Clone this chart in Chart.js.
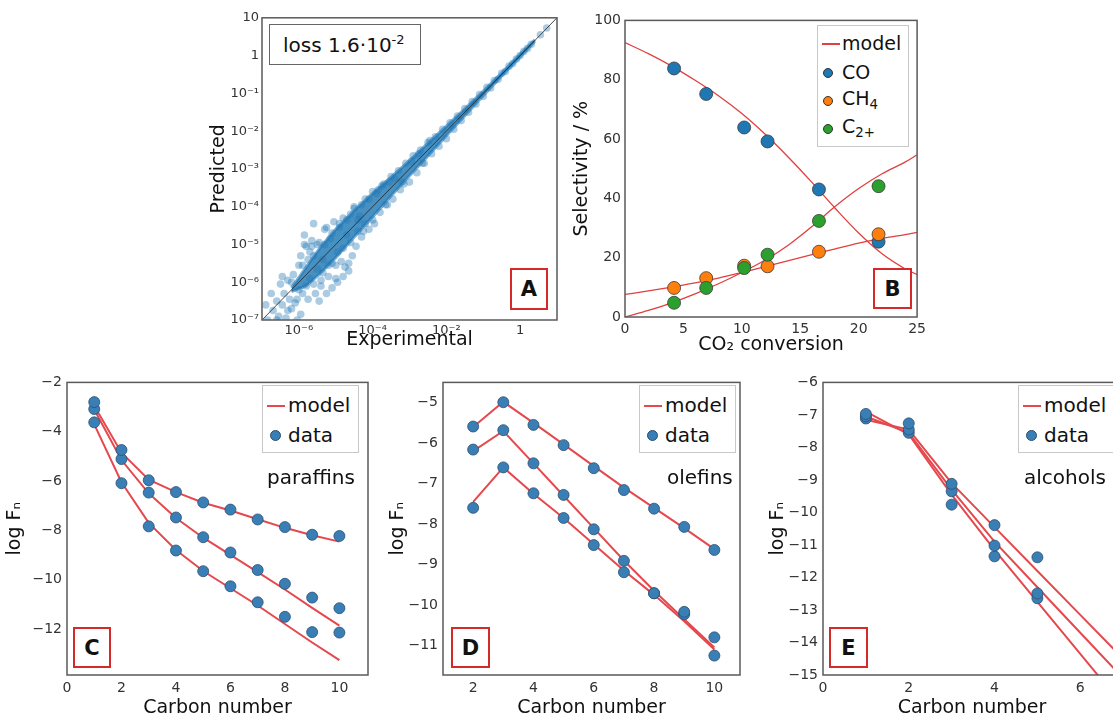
<!DOCTYPE html>
<html lang="en">
<head>
<meta charset="UTF-8">
<title>Model fit panels A-E</title>
<script src="https://cdn.jsdelivr.net/npm/chart.js@4.4.1/dist/chart.umd.min.js"></script>
<style>
  html, body { margin: 0; padding: 0; background: #fff; overflow: hidden; }
  body { width: 1113px; height: 718px; position: relative; font-family: "DejaVu Sans", sans-serif; color: #111; }
  canvas { position: absolute; }
  .box { position: absolute; background: #fff; border: 1px solid #c8c8c8; box-sizing: border-box; }
  .ln { position: absolute; height: 2px; background: #e5484d; }
  .dot { position: absolute; border-radius: 50%; box-sizing: border-box; border: 1px solid #2b4f70; }
  .txt { position: absolute; line-height: 1; transform: translateY(-55%); white-space: nowrap; }
  .txt sub { font-size: 70%; vertical-align: -0.3em; }
  .tag { position: absolute; border: 2px solid #d42a2a; background: #fff; box-sizing: border-box;
         font-weight: bold; font-size: 21px; display: flex; align-items: center; justify-content: center; }
  .note { position: absolute; font-size: 20px; line-height: 1; transform: translateY(-50%); white-space: nowrap; }
</style>
</head>
<body>

<!-- annotations -->
<div class="box" style="left:269px;top:24px;width:152px;height:41px;border:1.5px solid #666;">
  <span class="txt" style="left:13px;top:20px;font-size:20px;">loss 1.6·10<sup style="font-size:13px;vertical-align:0.55em">-2</sup></span>
</div>
<div class="tag" style="left:510px;top:268px;width:38px;height:42px;">A</div>

<div class="box" style="left:817px;top:25px;width:92px;height:122px;font-size:19px;">
  <div class="ln" style="left:4px;top:17px;width:18px;height:1.5px;background:#e0403f"></div>
  <span class="txt" style="left:24px;top:18px">model</span>
  <div class="dot" style="left:5px;top:42px;width:10px;height:10px;background:#1f77b4;border-color:#333"></div>
  <span class="txt" style="left:24px;top:47px">CO</span>
  <div class="dot" style="left:5px;top:70px;width:10px;height:10px;background:#ff7f0e;border-color:#333"></div>
  <span class="txt" style="left:24px;top:75px">CH<sub>4</sub></span>
  <div class="dot" style="left:5px;top:98px;width:10px;height:10px;background:#2ca02c;border-color:#333"></div>
  <span class="txt" style="left:24px;top:103px">C<sub>2+</sub></span>
</div>
<div class="tag" style="left:873px;top:268px;width:39px;height:41px;">B</div>

<div class="box" style="left:262px;top:385px;width:97px;height:68px;font-size:20px;">
  <div class="ln" style="left:4px;top:19px;width:18px"></div>
  <span class="txt" style="left:25px;top:20px">model</span>
  <div class="dot" style="left:7px;top:44px;width:11px;height:11px;background:#3a7eb6"></div>
  <span class="txt" style="left:25px;top:50px">data</span>
</div>
<div class="note" style="left:267px;top:477px;">paraffins</div>
<div class="tag" style="left:73px;top:627px;width:38px;height:41px;">C</div>

<div class="box" style="left:639px;top:385px;width:97px;height:68px;font-size:20px;">
  <div class="ln" style="left:4px;top:19px;width:18px"></div>
  <span class="txt" style="left:25px;top:20px">model</span>
  <div class="dot" style="left:7px;top:44px;width:11px;height:11px;background:#3a7eb6"></div>
  <span class="txt" style="left:25px;top:50px">data</span>
</div>
<div class="note" style="left:667px;top:477px;">olefins</div>
<div class="tag" style="left:451px;top:627px;width:39px;height:41px;">D</div>

<div class="box" style="left:1018px;top:385px;width:110px;height:68px;font-size:20px;">
  <div class="ln" style="left:4px;top:19px;width:18px"></div>
  <span class="txt" style="left:25px;top:20px">model</span>
  <div class="dot" style="left:7px;top:44px;width:11px;height:11px;background:#3a7eb6"></div>
  <span class="txt" style="left:25px;top:50px">data</span>
</div>
<div class="note" style="left:1024px;top:477px;">alcohols</div>
<div class="tag" style="left:829px;top:627px;width:39px;height:41px;">E</div>

<script>
// ---- A: parity plot (log10 values) ----
const aXTicks = [1e-6, 1e-4, 1e-2, 1];
const aYTicks = [1e-7, 1e-6, 1e-5, 1e-4, 1e-3, 1e-2, 1e-1, 1, 10];
const aDiag = [1e-7, 10];
// dense core of the cloud
const aBandExp = [-6.2, -5.8, -5.4, -5.0, -4.5, -4.0, -3.5, -3.0, -2.5, -2.0, -1.5, -1.0, -0.5, 0.0, 0.4];
const aBandLo  = [-6.25, -6.1, -5.75, -5.35, -4.8, -4.27, -3.72, -3.18, -2.66, -2.12, -1.59, -1.06, -0.54, -0.04, 0.38];
const aBandHi  = [-6.15, -5.6, -5.05, -4.6, -4.1, -3.65, -3.22, -2.78, -2.32, -1.87, -1.41, -0.94, -0.46, 0.04, 0.42];
// scattered points around the core
const aPtsExp = [-6.85, -6.7, -6.6, -6.55, -6.5, -6.45, -6.4, -6.3, -6.25, -6.2, -6.15, -6.1, -6.0, -5.95, -5.9,
  -5.85, -5.8, -5.8, -5.75, -5.7, -5.65, -5.6, -5.55, -5.5, -5.45, -5.4, -5.35, -5.3, -5.25, -5.2, -5.15, -5.1,
  -5.05, -5.0, -4.95, -4.9, -4.85, -4.8, -4.75, -4.7, -4.6, -4.55, -4.5, -4.45, -4.4, -4.35, -4.3, -4.2, -4.1,
  -4.0, -3.95, -3.85, -3.8, -3.7, -3.6, -3.5, -3.45, -3.3, -3.25, -3.1, -3.0, -2.9, -2.8, -2.7, -2.6, -2.5, -2.4,
  -2.3, -2.2, -2.1, -2.0, -1.9, -1.8, -1.7, -1.6, -1.5, -1.4, -1.3, -1.2, -1.1, -1.0, -0.9, -0.8, -0.7, -0.6,
  -0.5, -0.4, -0.3, -0.2, -0.1, 0.0, 0.1, 0.2, 0.3, 0.55, 0.72, -6.9, -6.05, -5.6, -4.65,
  -5.9, -5.7, -5.6, -5.5, -5.4, -5.3, -5.2, -5.1, -5.0, -4.9, -4.8, -4.7, -4.6, -4.5, -4.4, -4.3, -4.2, -4.1,
  -4.0, -3.9, -3.75, -3.65, -3.4, -3.15, -2.95, -2.65, -2.45,
  -6.75, -6.6, -6.35, -6.05, -5.95, -5.75, -5.45, -5.1, -4.8, -6.45, -6.2, -5.65, -5.25, -4.95, -4.65,
  -6.0, -6.3, -5.85, -5.35, -4.25, -3.55, -3.2, -2.75];
const aPtsPred = [-7.0, -6.75, -6.5, -6.9, -6.05, -6.6, -6.3, -6.75, -6.45, -6.0, -5.8, -6.55, -6.2, -6.85, -5.55,
  -4.75, -5.05, -6.1, -5.4, -5.9, -4.9, -5.3, -6.3, -5.65, -4.95, -6.1, -5.4, -4.6, -6.3, -5.85, -4.85, -5.5,
  -4.4, -5.9, -6.0, -4.55, -5.45, -4.3, -5.6, -4.75, -4.2, -5.3, -4.0, -5.05, -4.35, -4.25, -4.8, -3.8, -4.6,
  -3.6, -4.45, -3.55, -4.15, -3.4, -3.95, -3.2, -3.8, -3.05, -3.55, -2.85, -3.35, -2.65, -3.1, -2.5, -2.85, -2.3, -2.6,
  -2.15, -2.4, -1.95, -2.2, -1.78, -1.95, -1.6, -1.72, -1.4, -1.5, -1.22, -1.28, -1.03, -1.08, -0.84, -0.86, -0.66, -0.63,
  -0.47, -0.42, -0.28, -0.21, -0.09, 0.0, 0.11, 0.19, 0.3, 0.55, 0.73, -6.6, -7.0, -4.45, -5.7,
  -6.3, -5.2, -6.05, -5.0, -5.95, -5.0, -5.55, -4.7, -5.55, -4.45, -5.1, -4.35, -4.95, -4.05, -4.65, -3.95, -4.45, -3.8,
  -4.35, -3.65, -3.45, -3.95, -3.25, -3.4, -2.8, -2.85, -2.25,
  -6.3, -7.0, -6.95, -6.45, -5.3, -6.45, -6.5, -6.15, -5.85, -5.85, -6.7, -5.05, -4.55, -5.2, -5.5,
  -5.55, -5.95, -5.0, -5.75, -4.65, -3.35, -3.35, -2.6];

// ---- B: selectivity vs CO2 conversion ----
const bConv = [4.2, 6.95, 10.2, 12.2, 16.6, 21.7];
const bCO   = [83.8, 75.2, 63.9, 59.2, 43.0, 25.4];
const bCH4  = [9.8, 13.1, 17.3, 17.1, 22.0, 27.9];
const bC2   = [4.8, 9.8, 16.5, 21.0, 32.4, 44.1];
const bModelX   = [0, 2, 4, 6, 8, 10, 12, 14, 16, 18, 20, 22, 24, 25];
const bModelCO  = [92.5, 88.8, 84.6, 79.8, 74.6, 68.6, 61.6, 53.8, 45.4, 36.6, 28.3, 21.3, 16.2, 14.3];
const bModelCH4 = [7.6, 8.8, 10.1, 11.5, 13.1, 15.0, 17.0, 19.0, 21.0, 23.0, 24.9, 26.5, 27.8, 28.5];
const bModelC2  = [0, 2.2, 4.8, 7.8, 11.2, 15.0, 19.2, 24.3, 30.5, 37.3, 43.3, 48.3, 52.3, 54.7];
const bXTicks = [0, 5, 10, 15, 20, 25];
const bYTicks = [0, 20, 40, 60, 80, 100];

// ---- C: paraffins ----
const cN = [1, 2, 3, 4, 5, 6, 7, 8, 9, 10];
const cData1 = [-2.8, -4.74, -5.97, -6.45, -6.87, -7.16, -7.56, -7.87, -8.18, -8.23];
const cData2 = [-3.08, -5.11, -6.47, -7.48, -8.28, -8.9, -9.61, -10.17, -10.73, -11.16];
const cData3 = [-3.62, -6.09, -7.84, -8.82, -9.66, -10.27, -10.92, -11.51, -12.13, -12.15];
const cModel1 = [-2.95, -4.85, -5.95, -6.45, -6.88, -7.2, -7.55, -7.9, -8.2, -8.46];
const cModel2 = [-3.1, -5.15, -6.5, -7.5, -8.3, -9.0, -9.7, -10.4, -11.15, -11.87];
const cModel3 = [-3.7, -6.05, -7.7, -8.8, -9.65, -10.35, -11.05, -11.8, -12.55, -13.27];
const cXTicks = [0, 2, 4, 6, 8, 10];
const cYTicks = [-12, -10, -8, -6, -4, -2];

// ---- D: olefins ----
const dN = [2, 3, 4, 5, 6, 7, 8, 9, 10];
const dData1 = [-5.59, -4.99, -5.55, -6.05, -6.62, -7.16, -7.62, -8.07, -8.64];
const dData2 = [-6.16, -5.68, -6.5, -7.28, -8.13, -8.91, -9.71, -10.17, -10.8];
const dData3 = [-7.6, -6.6, -7.24, -7.85, -8.52, -9.19, -9.71, -10.23, -11.25];
const dModel1 = [-5.6, -4.98, -5.5, -6.03, -6.57, -7.1, -7.6, -8.1, -8.62];
const dModel2 = [-6.2, -5.7, -6.5, -7.3, -8.1, -8.9, -9.65, -10.35, -11.05];
const dModel3 = [-7.45, -6.6, -7.25, -7.85, -8.5, -9.15, -9.75, -10.4, -11.1];
const dXTicks = [2, 4, 6, 8, 10];
const dYTicks = [-11, -10, -9, -8, -7, -6, -5];

// ---- E: alcohols ----
const eN = [1, 2, 3, 4, 5];
const eData1 = [-6.97, -7.26, -9.12, -10.39, -11.38];
const eData2 = [-7.04, -7.45, -9.35, -11.02, -12.49];
const eData3 = [-7.11, -7.55, -9.76, -11.35, -12.64];
const eModelN = [1, 2, 3, 4, 5, 6, 7];
const eModel1 = [-7.15, -7.45, -9.1, -10.45, -11.8, -13.15, -14.5];
const eModel2 = [-7.05, -7.55, -9.3, -10.9, -12.3, -13.7, -15.1];
const eModel3 = [-6.9, -7.6, -9.45, -11.15, -12.75, -14.35, -15.95];
const eXTicks = [0, 2, 4, 6];
const eYTicks = [-15, -14, -13, -12, -11, -10, -9, -8, -7, -6];

Chart.defaults.font.family = '"DejaVu Sans", sans-serif';
Chart.defaults.color = '#333';

const RED = '#e5484d';
const DOT = '#3a7eb6';
const DOT_EDGE = '#2b4f70';

const sup = { '-': '⁻', '0': '⁰', '1': '¹', '2': '²', '3': '³', '4': '⁴', '5': '⁵', '6': '⁶', '7': '⁷', '8': '⁸', '9': '⁹' };
function logLabel(v) {
  const e = Math.round(Math.log10(v));
  if (e === 0) return '1';
  if (e === 1) return '10';
  return '10' + String(e).split('').map(c => sup[c]).join('');
}
function numLabel(v) { return String(v).replace('-', '\u2212'); }

const pts = (xs, ys) => xs.map((x, i) => ({ x: x, y: ys[i] }));
const pow10 = a => a.map(v => Math.pow(10, v));

const frame = {
  id: 'frame',
  afterDraw(chart) {
    const a = chart.chartArea, ctx = chart.ctx;
    ctx.save();
    ctx.strokeStyle = '#5a5a5a';
    ctx.lineWidth = 1.5;
    ctx.strokeRect(a.left, a.top, a.right - a.left, a.bottom - a.top);
    ctx.restore();
  }
};

// plot box: l,t,w,h = plot area on the page; ytx / xty = centres of axis titles
function panel(box, cfg) {
  const lh = 19 * 1.2, pt = 10, pr = 12;
  const yw = Math.round(box.l - box.ytx + lh / 2 + 2);
  const xh = Math.round(box.xty - (box.t + box.h) + lh / 2 + 2);
  const cv = document.createElement('canvas');
  cv.width = yw + box.w + pr;
  cv.height = pt + box.h + xh;
  cv.style.left = (box.l - yw) + 'px';
  cv.style.top = (box.t - pt) + 'px';
  cv.style.width = cv.width + 'px';
  cv.style.height = cv.height + 'px';
  document.body.insertBefore(cv, document.body.firstChild);

  const axis = (type, min, max, ticks, fmt, size, pad, title, isX) => ({
    type: type, min: min, max: max,
    grid: { display: false, drawTicks: false },
    border: { display: false },
    afterBuildTicks: s => { s.ticks = ticks.map(v => ({ value: v })); },
    afterFit: s => { if (isX) s.height = xh; else s.width = yw; },
    ticks: { callback: fmt, font: { size: size }, color: '#333', padding: pad, autoSkip: false, maxRotation: 0 },
    title: {
      display: true, text: title, color: '#111', font: { size: 19, lineHeight: 1.2 },
      padding: isX ? { top: 0, bottom: (box.t + box.h + xh) - box.xty - lh / 2 }
                   : { top: box.ytx - (box.l - yw) - lh / 2, bottom: 0 }
    }
  });

  new Chart(cv, {
    type: 'scatter',
    data: { datasets: cfg.datasets },
    options: {
      responsive: false,
      animation: false,
      layout: { padding: { top: pt, right: pr, left: 0, bottom: 0 } },
      plugins: { legend: { display: false }, tooltip: { enabled: false } },
      scales: {
        x: axis(cfg.x.type, cfg.x.min, cfg.x.max, cfg.x.ticks, cfg.x.fmt, cfg.x.size, cfg.x.pad, cfg.x.title, true),
        y: axis(cfg.y.type, cfg.y.min, cfg.y.max, cfg.y.ticks, cfg.y.fmt, cfg.y.size, cfg.y.pad, cfg.y.title, false)
      }
    },
    plugins: [frame]
  });
}

function modelLine(xs, ys, width, color) {
  return { type: 'line', data: pts(xs, ys), borderColor: color || RED, borderWidth: width || 2,
           pointRadius: 0, fill: false, tension: 0, order: 5 };
}
function dataDots(xs, ys) {
  return { data: pts(xs, ys), backgroundColor: DOT, borderColor: DOT_EDGE, borderWidth: 0.8,
           pointRadius: 5.5, order: 1 };
}

// Panel A
const aBandX = pow10(aBandExp);
panel({ l: 262, t: 17, w: 295, h: 303, ytx: 219, xty: 340 }, {
  x: { type: 'logarithmic', min: 1e-7, max: 10, ticks: aXTicks, fmt: logLabel, size: 13, pad: 3, title: 'Experimental' },
  y: { type: 'logarithmic', min: 1e-7, max: 10, ticks: aYTicks, fmt: logLabel, size: 13, pad: 3, title: 'Predicted' },
  datasets: [
    { type: 'line', data: pts(aDiag, aDiag), borderColor: '#222', borderWidth: 0.8, pointRadius: 0, fill: false, order: 0 },
    { data: pts(pow10(aPtsExp), pow10(aPtsPred)), backgroundColor: 'rgba(31,119,180,0.38)', borderWidth: 0,
      pointRadius: 3.8, order: 1 },
    { type: 'line', data: pts(aBandX, pow10(aBandLo)), borderColor: 'rgba(31,119,180,0.6)', borderWidth: 3,
      pointRadius: 0, fill: false, order: 2 },
    { type: 'line', data: pts(aBandX, pow10(aBandHi)), borderColor: 'rgba(31,119,180,0.6)', borderWidth: 3,
      pointRadius: 0, fill: '-1', backgroundColor: 'rgba(31,119,180,0.82)', order: 2 }
  ]
});

// Panel B
function bDots(ys, color) {
  return { data: pts(bConv, ys), backgroundColor: color, borderColor: '#3a3a3a', borderWidth: 0.8, pointRadius: 6.5 };
}
function bCurve(ys) {
  return { type: 'line', data: pts(bModelX, ys), borderColor: '#e0403f', borderWidth: 1.3, pointRadius: 0,
           fill: false, cubicInterpolationMode: 'monotone', order: 5 };
}
panel({ l: 625, t: 18, w: 293, h: 299, ytx: 582, xty: 345 }, {
  x: { type: 'linear', min: 0, max: 25, ticks: bXTicks, fmt: numLabel, size: 14, pad: 4, title: 'CO\u2082 conversion' },
  y: { type: 'linear', min: 0, max: 100, ticks: bYTicks, fmt: numLabel, size: 14, pad: 4, title: 'Selectivity / %' },
  datasets: [
    Object.assign(bDots(bC2, '#2ca02c'), { order: 1 }),
    Object.assign(bDots(bCH4, '#ff7f0e'), { order: 2 }),
    Object.assign(bDots(bCO, '#1f77b4'), { order: 3 }),
    bCurve(bModelCO), bCurve(bModelCH4), bCurve(bModelC2)
  ]
});

// Panel C
panel({ l: 67, t: 379, w: 301, h: 296, ytx: 15, xty: 708 }, {
  x: { type: 'linear', min: 0, max: 11.05, ticks: cXTicks, fmt: numLabel, size: 14, pad: 5, title: 'Carbon number' },
  y: { type: 'linear', min: -13.87, max: -2, ticks: cYTicks, fmt: numLabel, size: 14, pad: 5, title: 'log F\u2099' },
  datasets: [
    dataDots(cN, cData1), dataDots(cN, cData2), dataDots(cN, cData3),
    modelLine(cN, cModel1), modelLine(cN, cModel2), modelLine(cN, cModel3)
  ]
});

// Panel D
panel({ l: 443, t: 379, w: 297, h: 296, ytx: 398, xty: 708 }, {
  x: { type: 'linear', min: 1, max: 10.85, ticks: dXTicks, fmt: numLabel, size: 14, pad: 5, title: 'Carbon number' },
  y: { type: 'linear', min: -11.73, max: -4.5, ticks: dYTicks, fmt: numLabel, size: 14, pad: 5, title: 'log F\u2099' },
  datasets: [
    dataDots(dN, dData1), dataDots(dN, dData2), dataDots(dN, dData3),
    modelLine(dN, dModel1), modelLine(dN, dModel2), modelLine(dN, dModel3)
  ]
});

// Panel E
panel({ l: 823, t: 379, w: 298, h: 296, ytx: 778, xty: 708 }, {
  x: { type: 'linear', min: 0, max: 6.95, ticks: eXTicks, fmt: numLabel, size: 14, pad: 5, title: 'Carbon number' },
  y: { type: 'linear', min: -15, max: -6, ticks: eYTicks, fmt: numLabel, size: 14, pad: 5, title: 'log F\u2099' },
  datasets: [
    dataDots(eN, eData1), dataDots(eN, eData2), dataDots(eN, eData3),
    modelLine(eModelN, eModel1), modelLine(eModelN, eModel2), modelLine(eModelN, eModel3)
  ]
});
</script>
</body>
</html>
